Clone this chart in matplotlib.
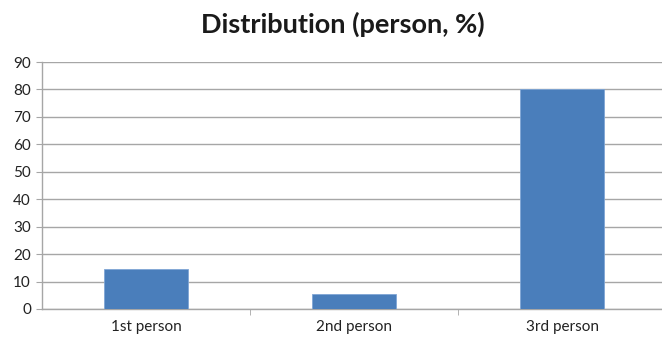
import matplotlib
matplotlib.use("Agg")
import matplotlib.pyplot as plt

plt.rcParams['font.family'] = ['Lato', 'DejaVu Sans']

# data
categories = ['1st person', '2nd person', '3rd person']
values = [14.7, 5.5, 80.0]
y_ticks = [0, 10, 20, 30, 40, 50, 60, 70, 80, 90]

fig = plt.figure(figsize=(6.62, 3.38), dpi=100)
ax = fig.add_axes([42 / 662, 29 / 338, 624 / 662, 247 / 338])

grid_col = '#a6a6a6'
ax.bar(range(len(categories)), values, width=0.4, color='#4a7ebb',
       edgecolor='#7fa6d6', linewidth=0.6, zorder=3)

ax.set_xlim(-0.5, len(categories) - 0.5)
ax.set_ylim(0, 90)
ax.set_yticks(y_ticks)
ax.set_yticklabels([str(t) for t in y_ticks])
ax.set_xticks(range(len(categories)))
ax.set_xticklabels(categories)
ax.yaxis.grid(True, color=grid_col, linewidth=1.0, zorder=0)
ax.set_axisbelow(True)

for s in ['top', 'right']:
    ax.spines[s].set_visible(False)
ax.spines['left'].set_color(grid_col)
ax.spines['bottom'].set_color(grid_col)
ax.spines['left'].set_linewidth(1.0)
ax.spines['bottom'].set_linewidth(1.0)

# category ticks sit between categories
ax.set_xticks([0.5, 1.5], minor=True)
ax.tick_params(axis='x', which='major', length=0, labelsize=11, pad=8, colors='#222222')
ax.tick_params(axis='x', which='minor', length=4, color=grid_col, direction='out')
ax.tick_params(axis='y', length=4, color=grid_col, labelsize=11, pad=4, colors='#222222')

fig.text(0.518, 1 - 24 / 338, 'Distribution (person, %)', ha='center', va='center',
         fontsize=19.5, fontweight='bold', color='#1a1a1a')

plt.savefig('out.png', dpi=100)
